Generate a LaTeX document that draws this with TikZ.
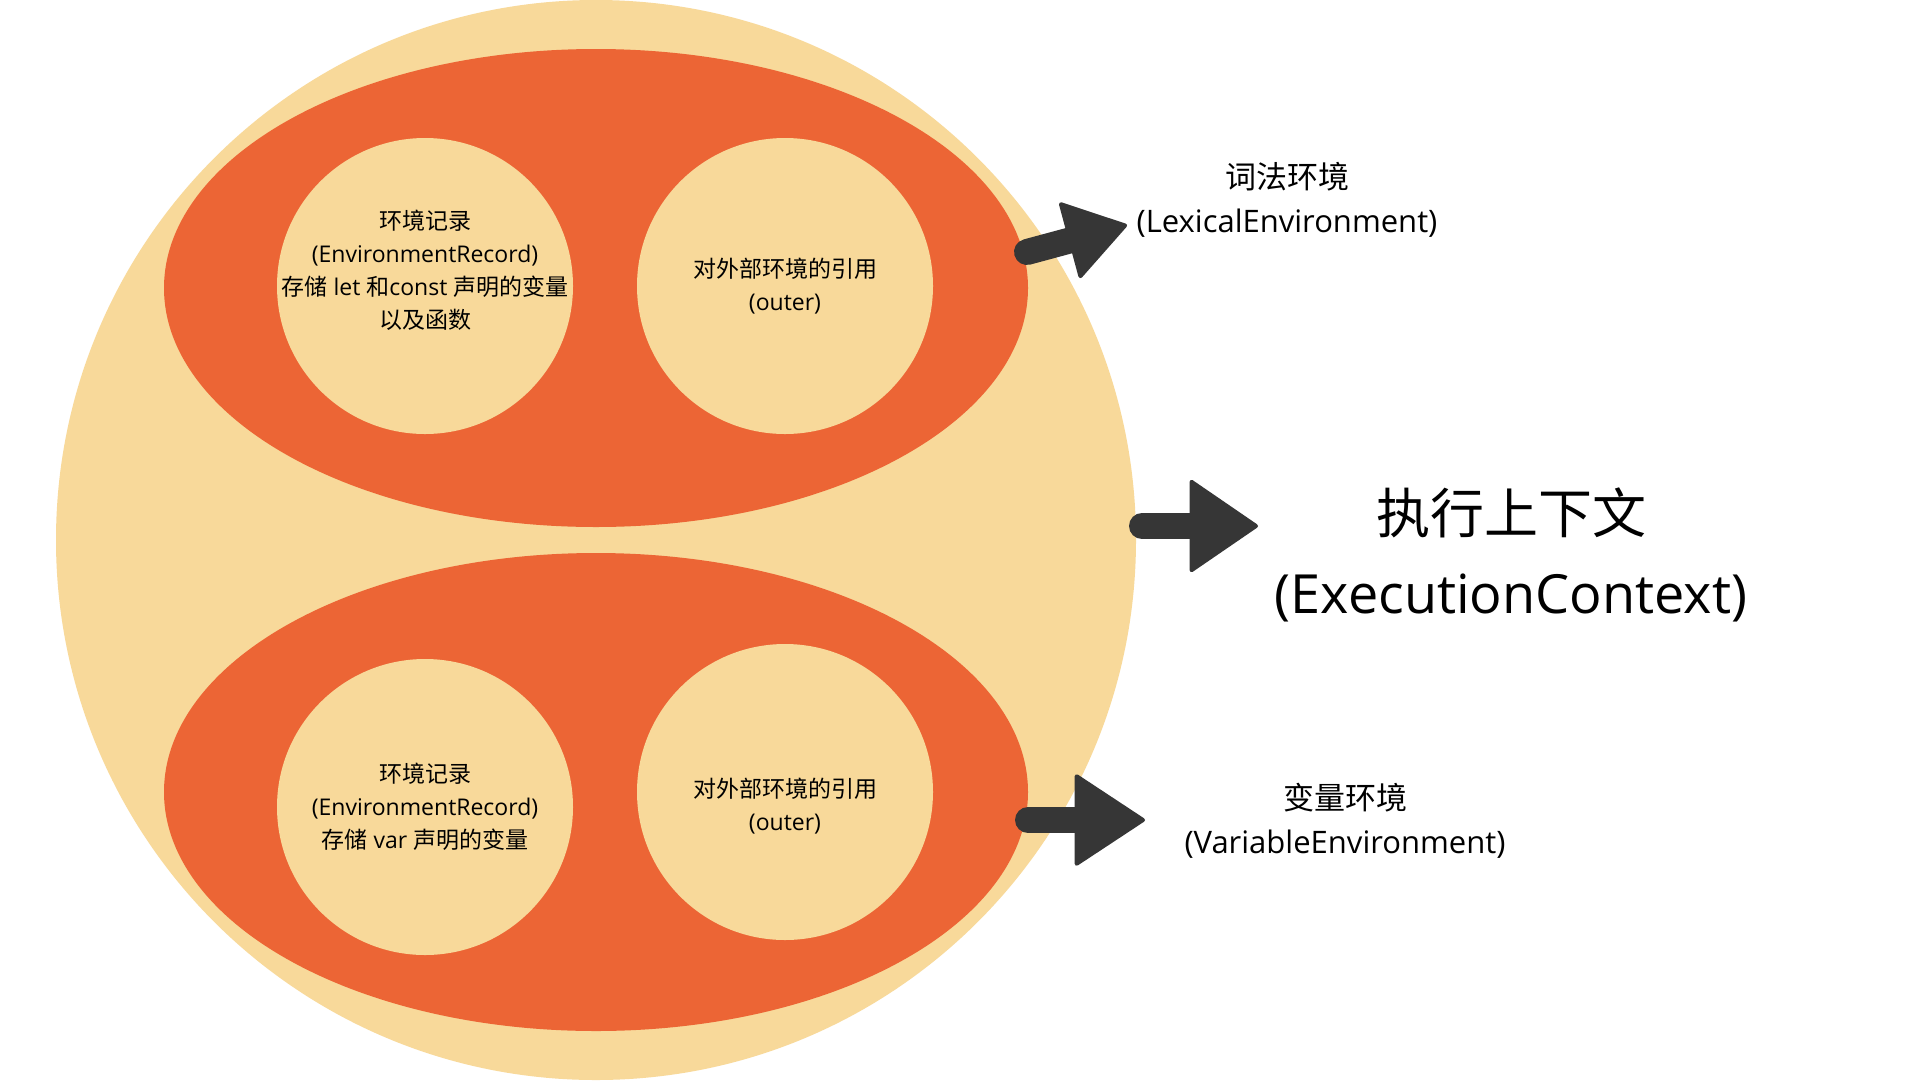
\documentclass[tikz,border=0pt]{standalone}
\usepackage{fontspec}
\setmainfont{Open Sans}
\newfontfamily\cjk{Noto Sans CJK SC}
\usetikzlibrary{arrows.meta}
\definecolor{cream}{HTML}{F8D99A}
\definecolor{tangerine}{HTML}{EC6535}
\definecolor{charcoal}{HTML}{363636}

\begin{document}
\begin{tikzpicture}[x=1pt, y=-1pt,
    recordtext/.style={align=center, font=\fontsize{23}{33}\selectfont},
    sidelabel/.style={align=center, font=\fontsize{31}{44}\selectfont},
    blockarrow/.style={draw=charcoal, line width=26pt, line cap=round}]
    \useasboundingbox (0,0) rectangle (1920,1080);
    \fill[white] (0,0) rectangle (1920,1080);

    % Execution context shell
    \fill[cream] (596,540) circle (540);

    % Lexical environment
    \fill[tangerine] (596,288) ellipse [x radius=432, y radius=239];
    \fill[cream] (425,286) circle (148);
    \fill[cream] (785,286) circle (148);
    \node[recordtext] (lexrec) at (425,270) {{\cjk 环境记录}\\(EnvironmentRecord)\\{\cjk 存储} let {\cjk 和}const {\cjk 声明的变量}\\{\cjk 以及函数}};
    \node[recordtext] (lexouter) at (785,286) {{\cjk 对外部环境的引用}\\(outer)};

    % Variable environment
    \fill[tangerine] (596,792) ellipse [x radius=432, y radius=239];
    \fill[cream] (425,807) circle (148);
    \fill[cream] (785,792) circle (148);
    \node[recordtext] (varrec) at (425,807) {{\cjk 环境记录}\\(EnvironmentRecord)\\{\cjk 存储} var {\cjk 声明的变量}};
    \node[recordtext] (varouter) at (785,806) {{\cjk 对外部环境的引用}\\(outer)};

    % Labels
    \node[sidelabel] (lexlabel) at (1287,200) {{\cjk 词法环境}\\(LexicalEnvironment)};
    \node[align=center, font=\fontsize{54}{80}\selectfont] (ctxlabel) at (1511,555) {{\cjk 执行上下文}\\(ExecutionContext)};
    \node[sidelabel] (varlabel) at (1345,821) {{\cjk 变量环境}\\(VariableEnvironment)};

    % Arrows
    \coordinate (lexTail) at (1027,252);
    \coordinate (lexTip) at (1127,225);
    \coordinate (ctxTail) at (1142,526);
    \coordinate (ctxTip) at (1258,526);
    \coordinate (varTail) at (1028,820);
    \coordinate (varTip) at (1145,820);
    \draw[blockarrow, -{Triangle[length=62pt, width=81pt, line width=4pt, round]}] (lexTail) -- (lexTip);
    \draw[blockarrow, -{Triangle[length=70pt, width=95pt, line width=4pt, round]}] (ctxTail) -- (ctxTip);
    \draw[blockarrow, -{Triangle[length=72pt, width=94pt, line width=4pt, round]}] (varTail) -- (varTip);
\end{tikzpicture}
\end{document}
